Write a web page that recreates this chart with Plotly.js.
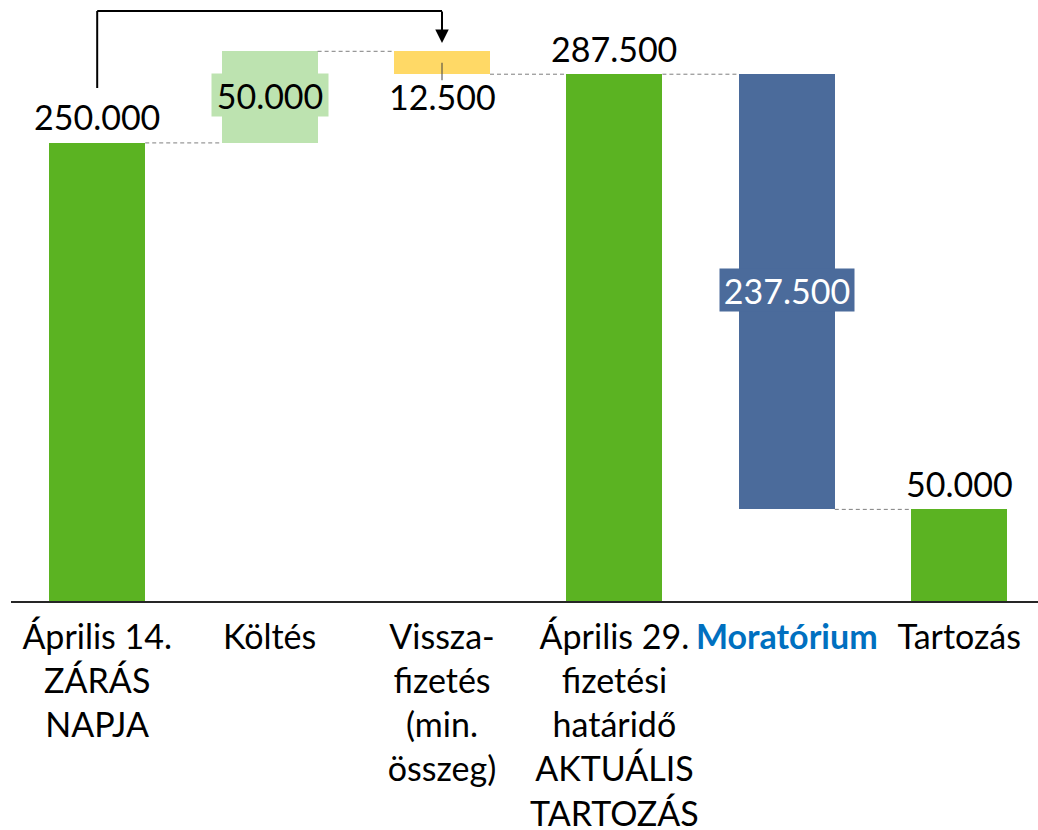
<!DOCTYPE html>
<html>
<head>
<meta charset="utf-8">
<script src="https://cdn.plot.ly/plotly-3.0.1.min.js"></script>
<style>html,body{margin:0;padding:0;background:#fff;}#chart{width:1038px;height:830px;}</style>
</head>
<body>
<div id="chart"></div>
<script>
// ---- data ----
const categories = [
  'Április 14.<br>ZÁRÁS<br>NAPJA',
  'Költés',
  'Vissza-<br>fizetés<br>(min.<br>összeg)',
  'Április 29.<br>fizetési<br>határidő<br>AKTUÁLIS<br>TARTOZÁS',
  'Moratórium',
  'Tartozás'
];
const measures = ['total', 'increase', 'decrease', 'total', 'decrease', 'total'];
const values = [250000, 50000, 12500, 287500, 237500, 50000];

// ---- styles ----
const barColors = ['#5BB322', '#BDE3B0', '#FFD966', '#5BB322', '#4B6B9B', '#5BB322'];
const labelPlace = ['above', 'inside', 'below', 'above', 'inside', 'above'];
const labelBg = [null, '#BDE3B0', null, null, '#4B6B9B', null];
const labelColor = ['#000', '#000', '#000', '#000', '#fff', '#000'];
const FONT = 'Lato, Carlito, Calibri, sans-serif';
const FS = 34;
const W = 1038, H = 830;
const M = {l: 11, r: 0, t: 0, b: 229};
const plotH = H - M.t - M.b;
const YMAX = 328000;
const pxPerUnit = plotH / YMAX;
const barW = 0.557;
const XR = [-0.5, -0.5 + (W - M.l - M.r) / 172.4];

// waterfall geometry from the data
const bases = [], tops = [], lens = [];
let running = 0;
values.forEach((v, i) => {
  let b, t;
  if (measures[i] === 'total') { b = 0; t = v; running = v; }
  else if (measures[i] === 'increase') { b = running; t = running + v; running = t; }
  else { t = running; b = running - v; running = b; }
  bases.push(b); tops.push(t); lens.push(t - b);
});
const idx = values.map((_, i) => i);
const fmt = v => String(v).replace(/\B(?=(\d{3})+(?!\d))/g, '.');
const ends = measures.map((m, i) => m === 'decrease' ? bases[i] : tops[i]);

const tickText = categories.map(c => c === 'Moratórium'
  ? '<span style="color:#0070C0"><b>' + c + '</b></span>' : c);

const trace = {
  type: 'bar', x: idx, y: lens, base: bases, width: barW,
  marker: {color: barColors, line: {width: 0}},
  hoverinfo: 'skip'
};

const shapes = [];
// dashed connectors
for (let i = 0; i < values.length - 1; i++) {
  const lvl = ends[i];
  shapes.push({type: 'line', xref: 'x', yref: 'y',
    x0: i + barW / 2, x1: i + 1 - barW / 2, y0: lvl, y1: lvl,
    line: {color: '#7F7F7F', width: 1, dash: '4px,3px'}});
}
// leader line for label below bar 3
shapes.push({type: 'line', xref: 'x', yref: 'y', x0: 2, x1: 2,
  y0: (bases[2] + tops[2]) / 2, y1: bases[2] - 6 / pxPerUnit,
  line: {color: '#404040', width: 1}});
// bracket arrow from bar 1 to bar 3
const pyToPaper = py => 1 - py / plotH;
shapes.push({type: 'line', xref: 'x', yref: 'paper', x0: 0, x1: 0,
  y0: pyToPaper(88), y1: pyToPaper(11), line: {color: '#000', width: 2}});
shapes.push({type: 'line', xref: 'x', yref: 'paper', x0: 0, x1: 2,
  y0: pyToPaper(11), y1: pyToPaper(11), line: {color: '#000', width: 2}});

const annotations = [];
annotations.push({xref: 'x', yref: 'paper', x: 2, y: pyToPaper(43), text: '',
  showarrow: true, ax: 0, ay: -33, arrowhead: 2, arrowsize: 1.35, arrowwidth: 2,
  arrowcolor: '#000', standoff: 0});

values.forEach((v, i) => {
  const a = {xref: 'x', yref: 'y', x: i, text: fmt(v), showarrow: false,
    font: {family: FONT, size: FS, color: labelColor[i]}, xanchor: 'center', yanchor: 'middle'};
  if (labelPlace[i] === 'above') { a.y = tops[i]; a.yshift = 26; }
  else if (labelPlace[i] === 'below') { a.y = bases[i]; a.yshift = -22; }
  else {
    a.y = (bases[i] + tops[i]) / 2; a.yshift = 2;
    a.bgcolor = labelBg[i]; a.borderpad = 2;
    a.width = fmt(v).length > 6 ? 130 : 112; a.height = 38;
  }
  annotations.push(a);
});

const layout = {
  width: W, height: H, margin: M,
  paper_bgcolor: '#fff', plot_bgcolor: '#fff', showlegend: false,
  bargap: 0,
  xaxis: {type: 'linear', range: XR, tickvals: idx, ticktext: tickText, tickangle: 0,
    showgrid: false, zeroline: false, showline: true, linecolor: '#262626', linewidth: 2,
    ticks: '', tickfont: {family: FONT, size: FS, color: '#000'}, automargin: false,
    ticklabelstandoff: 5, fixedrange: true},
  yaxis: {range: [0, YMAX], visible: false, showgrid: false, zeroline: false, fixedrange: true},
  shapes: shapes, annotations: annotations
};
Plotly.newPlot('chart', [trace], layout, {displayModeBar: false, staticPlot: true});
</script>
</body>
</html>
